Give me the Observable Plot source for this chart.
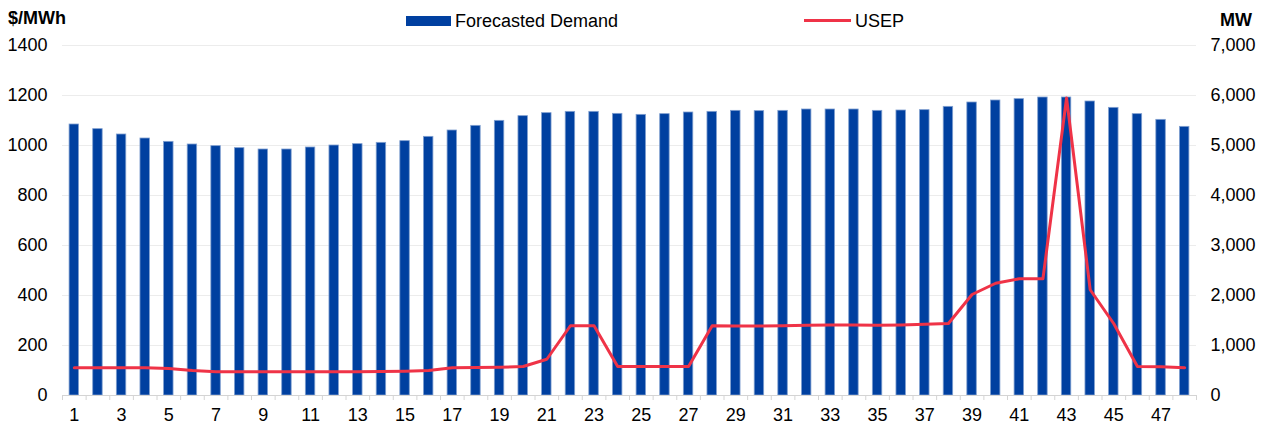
<!DOCTYPE html>
<html>
<head>
<meta charset="utf-8">
<script src="https://cdn.jsdelivr.net/npm/d3@7"></script>
<script src="https://cdn.jsdelivr.net/npm/@observablehq/plot@0.6"></script>
<style>
  html, body { margin: 0; padding: 0; background: #fff; }
  #wrap { position: relative; width: 1269px; height: 430px; font-family: "Liberation Sans", Arial, sans-serif; color: #000; }
  .t { position: absolute; font-size: 18px; line-height: 18px; white-space: nowrap; }
  .b { font-weight: bold; }
  .sw { position: absolute; }
  #chart { position: absolute; left: 0; top: 35px; }
</style>
</head>
<body>
<div id="wrap">
  <div class="t b" style="left:8px; top:9px;">$/MWh</div>
  <div class="t b" style="left:1220px; top:11px;">MW</div>
  <div class="sw" style="left:406px; top:16px; width:45px; height:10px; background:#0040A0;"></div>
  <div class="t" style="left:455px; top:12px;">Forecasted Demand</div>
  <div class="sw" style="left:804px; top:19px; width:47px; height:3px; background:#EF3347;"></div>
  <div class="t" style="left:855px; top:12px;">USEP</div>
  <div id="chart"></div>
</div>
<script>
const periods = [1,2,3,4,5,6,7,8,9,10,11,12,13,14,15,16,17,18,19,20,21,22,23,24,25,26,27,28,29,30,31,32,33,34,35,36,37,38,39,40,41,42,43,44,45,46,47,48];
const demandMW = [5420,5327,5220,5140,5073,5020,4987,4947,4920,4920,4960,5000,5027,5053,5087,5173,5300,5393,5493,5587,5647,5673,5673,5633,5613,5627,5660,5673,5693,5687,5693,5720,5720,5720,5693,5700,5707,5773,5860,5900,5927,5960,5960,5880,5753,5627,5513,5373];
const usep = [111,111,111,111,108,100,95,95,95,95,95,95,95,96,97,100,111,112,113,116,145,279,279,116,116,116,116,279,278,278,279,281,282,282,281,282,285,288,404,449,467,467,1190,423,287,116,115,111];
const leftTicks = [0,200,400,600,800,1000,1200,1400];
const rightTicks = [0,1000,2000,3000,4000,5000,6000,7000];
const xLabelTicks = [1,3,5,7,9,11,13,15,17,19,21,23,25,27,29,31,33,35,37,39,41,43,45,47];
const ratio = 7000 / 1400;

const data = periods.map((p, i) => ({period: p, demand: demandMW[i], usep: usep[i]}));

const W = 1269, H = 395, mL = 62, mR = 73, mT = 10, mB = 35;
const step = (W - mL - mR) / periods.length;

const chart = Plot.plot({
  width: W,
  height: H,
  marginLeft: mL,
  marginRight: mR,
  marginTop: mT,
  marginBottom: mB,
  style: {fontFamily: "'Liberation Sans', Arial, sans-serif", fontSize: "18px", color: "#000", background: "#fff"},
  x: {type: "band", domain: periods, paddingInner: 0.6, paddingOuter: 0.3, round: false, axis: null},
  y: {domain: [0, 1400], axis: null},
  marks: [
    Plot.ruleY(leftTicks.filter(d => d > 0), {stroke: "#ececec", strokeWidth: 1}),
    Plot.barY(data, {x: "period", y: d => d.demand / ratio, fill: "#0040A0", stroke: "#7f9fd0", strokeWidth: 0.8}),
    Plot.lineY(data, {x: "period", y: "usep", stroke: "#EF3347", strokeWidth: 3, strokeLinejoin: "round", strokeLinecap: "round"}),
    Plot.ruleY([0], {stroke: "#d4d4d4", strokeWidth: 1}),
    Plot.axisY({anchor: "left", ticks: leftTicks, tickSize: 0, tickPadding: 15, tickFormat: d => String(d), fontSize: 18, label: null}),
    Plot.axisY({anchor: "right", ticks: leftTicks, tickSize: 0, tickPadding: 14, tickFormat: d => d3.format(",")(d * ratio), fontSize: 18, label: null}),
    Plot.axisX({ticks: periods, tickSize: 5, tickFormat: () => "", stroke: "#d4d4d4", dx: -step / 2, label: null}),
    Plot.axisX({ticks: [48], tickSize: 5, tickFormat: () => "", stroke: "#d4d4d4", dx: step / 2, label: null}),
    Plot.axisX({ticks: xLabelTicks, tickSize: 0, tickPadding: 13, fontSize: 18, label: null})
  ]
});
document.getElementById("chart").appendChild(chart);
</script>
</body>
</html>
